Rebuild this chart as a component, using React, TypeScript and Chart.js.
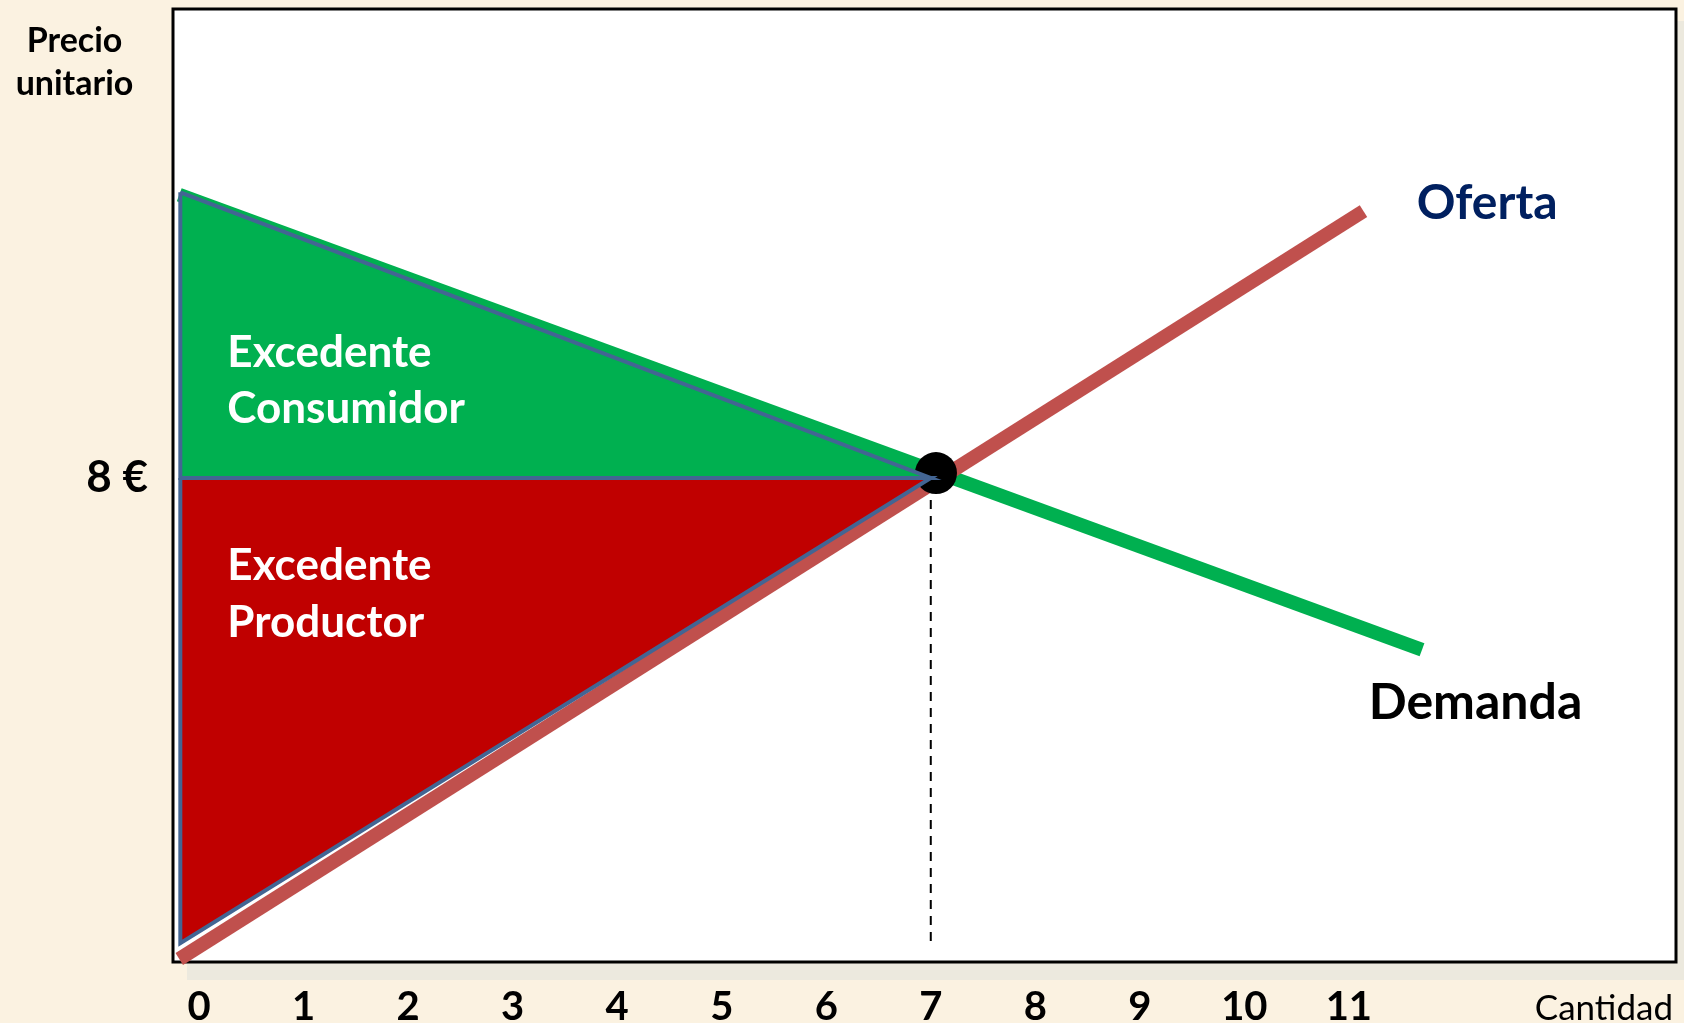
import React, { useEffect, useRef } from "react";
import { Chart, registerables } from "chart.js";

Chart.register(...registerables);

// ---- data (quantity = x, unit price = y) ----
const xTickValues = [0, 1, 2, 3, 4, 5, 6, 7, 8, 9, 10, 11];
const yTickValues = [8];
const demandQ = [-0.19, 11.7];
const demandP = [12.68, 5.16];
const supplyQ = [-0.19, 11.14];
const supplyP = [0.05, 12.41];
const consumerQ = [-0.18, 7, -0.18, -0.18];
const consumerP = [12.72, 8, 8, 12.72];
const producerQ = [-0.18, 7, -0.18, -0.18];
const producerP = [8, 8, 0.31, 8];
const equilibriumQ = [7.05];
const equilibriumP = [8.08];
const guideQ = [7, 7];
const guideP = [7.9, 0.26];

const consumerLabel = ["Excedente", "Consumidor"];
const producerLabel = ["Excedente", "Productor"];
const supplyLabel = "Oferta";
const demandLabel = "Demanda";
const xTitle = "Cantidad";
const yTitle = ["Precio", "unitario"];

const BG = "#FBF2E1";
const GREEN = "#00B050";
const RED_FILL = "#C00000";
const SUPPLY = "#C0504D";
const OUTLINE = "#436593";
const NAVY = "#002060";
const FONT = "Lato, 'Open Sans', sans-serif";

const pts = (xs: number[], ys: number[]) => xs.map((x, i) => ({ x, y: ys[i] }));

const paperPlugin = {
  id: "paper",
  beforeDraw(chart: any) {
    const { ctx, chartArea: a, width, height } = chart;
    ctx.save();
    ctx.fillStyle = BG;
    ctx.fillRect(0, 0, width, height);
    ctx.fillStyle = "#ECE9DE";
    ctx.fillRect(a.left + 14, a.bottom, width - a.left - 14, 18);
    ctx.fillRect(a.right, a.top + 12, width - a.right, a.bottom - a.top);
    ctx.fillStyle = "#FFFFFF";
    ctx.fillRect(a.left, a.top, a.right - a.left, a.bottom - a.top);
    ctx.lineWidth = 3;
    ctx.strokeStyle = "#000000";
    ctx.strokeRect(a.left, a.top, a.right - a.left, a.bottom - a.top);
    ctx.restore();
  },
};

const textPlugin = {
  id: "texts",
  afterDatasetsDraw(chart: any) {
    const { ctx, chartArea: a, scales } = chart;
    const xs = scales.x;
    const ys = scales.y;
    ctx.save();
    ctx.textBaseline = "alphabetic";
    ctx.textAlign = "left";
    ctx.fillStyle = "#FFFFFF";
    ctx.font = `bold 44px ${FONT}`;
    const lx = xs.getPixelForValue(0.27);
    ctx.fillText(consumerLabel[0], lx, ys.getPixelForValue(9.83));
    ctx.fillText(consumerLabel[1], lx, ys.getPixelForValue(8.91));
    ctx.fillText(producerLabel[0], lx, ys.getPixelForValue(6.31));
    ctx.fillText(producerLabel[1], lx, ys.getPixelForValue(5.37));

    ctx.font = `bold 48px ${FONT}`;
    ctx.fillStyle = NAVY;
    ctx.fillText(supplyLabel, xs.getPixelForValue(11.65), ys.getPixelForValue(12.28));
    ctx.fillStyle = "#000000";
    ctx.font = `bold 50px ${FONT}`;
    ctx.fillText(demandLabel, xs.getPixelForValue(11.19), ys.getPixelForValue(4.02));

    // axis titles outside the plot box
    ctx.font = `35px ${FONT}`;
    ctx.textAlign = "right";
    ctx.fillText(xTitle, a.right - 3, chart.height - 3);
    ctx.font = `bold 34px ${FONT}`;
    ctx.textAlign = "center";
    const cx = a.left / 2 - 12;
    ctx.fillText(yTitle[0], cx, a.top + 43);
    ctx.fillText(yTitle[1], cx, a.top + 86);
    ctx.restore();
  },
};

export default function App() {
  const ref = useRef<HTMLCanvasElement | null>(null);

  useEffect(() => {
    if (!ref.current) return;
    const chart = new Chart(ref.current, {
      type: "line",
      data: {
        datasets: [
          {
            label: "consumer",
            data: pts(consumerQ, consumerP),
            fill: "shape",
            backgroundColor: GREEN,
            borderColor: OUTLINE,
            borderWidth: 4,
            borderJoinStyle: "miter",
            pointRadius: 0,
            order: 0,
          },
          {
            label: "producer",
            data: pts(producerQ, producerP),
            fill: "shape",
            backgroundColor: RED_FILL,
            borderColor: OUTLINE,
            borderWidth: 4,
            borderJoinStyle: "miter",
            pointRadius: 0,
            order: 1,
          },
          {
            label: "equilibrium",
            data: pts(equilibriumQ, equilibriumP),
            showLine: false,
            pointRadius: 21,
            pointBackgroundColor: "#000000",
            pointBorderWidth: 0,
            clip: false,
            order: 2,
          },
          {
            label: "guide",
            data: pts(guideQ, guideP),
            borderColor: "#000000",
            borderWidth: 2,
            borderDash: [9, 7],
            pointRadius: 0,
            fill: false,
            order: 3,
          },
          {
            label: "supply",
            data: pts(supplyQ, supplyP),
            borderColor: SUPPLY,
            borderWidth: 14,
            pointRadius: 0,
            fill: false,
            clip: false,
            order: 4,
          },
          {
            label: "demand",
            data: pts(demandQ, demandP),
            borderColor: GREEN,
            borderWidth: 14,
            pointRadius: 0,
            fill: false,
            clip: false,
            order: 5,
          },
        ],
      },
      options: {
        responsive: false,
        animation: false,
        events: [],
        layout: { autoPadding: false, padding: { left: 0, top: 9, right: 8, bottom: 0 } },
        plugins: {
          legend: { display: false },
          tooltip: { enabled: false },
        },
        scales: {
          x: {
            type: "linear",
            min: -0.25,
            max: 14.13,
            grid: { display: false, drawTicks: false, tickLength: 0 },
            border: { display: false },
            afterBuildTicks: (s: any) => {
              s.ticks = xTickValues.map((v) => ({ value: v }));
            },
            afterFit: (s: any) => {
              s.height = 61;
              s.paddingLeft = 0;
              s.paddingRight = 0;
              s.paddingTop = 0;
              s.paddingBottom = 0;
            },
            ticks: {
              autoSkip: false,
              maxRotation: 0,
              padding: 21,
              color: "#000000",
              font: { family: FONT, weight: "bold", size: 40 },
              callback: (v: any) => String(v),
            },
          },
          y: {
            type: "linear",
            min: 0,
            max: 15.75,
            grid: { display: false, drawTicks: false, tickLength: 0 },
            border: { display: false },
            afterBuildTicks: (s: any) => {
              s.ticks = yTickValues.map((v) => ({ value: v }));
            },
            afterFit: (s: any) => {
              s.width = 173;
              s.paddingLeft = 0;
              s.paddingRight = 0;
              s.paddingTop = 0;
              s.paddingBottom = 0;
            },
            ticks: {
              padding: 25,
              labelOffset: 0,
              color: "#000000",
              font: { family: FONT, weight: "bold", size: 44 },
              callback: (v: any) => `${v} €`,
            },
          },
        },
      } as any,
      plugins: [paperPlugin, textPlugin],
    });
    return () => chart.destroy();
  }, []);

  return (
    <div
      style={{
        position: "fixed",
        left: 0,
        top: 0,
        width: 1684,
        height: 1023,
        background: BG,
      }}
    >
      <canvas ref={ref} width={1684} height={1023} style={{ display: "block" }} />
    </div>
  );
}
